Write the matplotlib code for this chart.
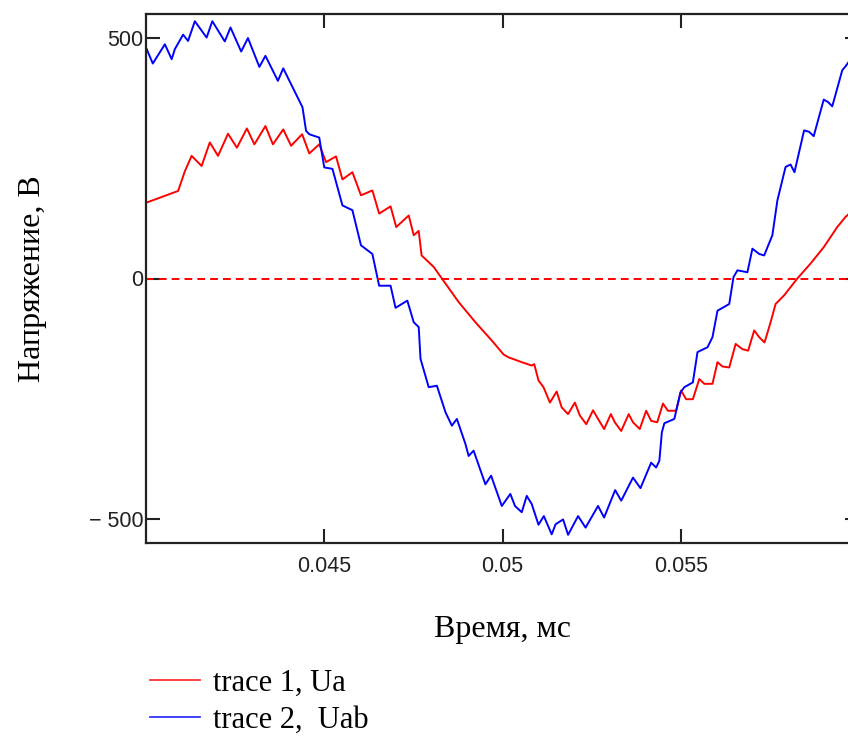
import numpy as np
import matplotlib
matplotlib.use("Agg")
import matplotlib.pyplot as plt
from matplotlib.lines import Line2D

plt.rcParams['font.family'] = ['Liberation Serif', 'DejaVu Serif']

# trace 1, Ua  (time s, voltage V)
t_ua = [0.04002, 0.04090, 0.04109, 0.04128, 0.04156, 0.04179, 0.04202, 0.04230,
        0.04255, 0.04283, 0.04304, 0.04335, 0.04356, 0.04385, 0.04407, 0.04438,
        0.04458, 0.04486, 0.04505, 0.04533, 0.04551, 0.04579, 0.04603, 0.04635,
        0.04654, 0.04686, 0.04702, 0.04737, 0.04751, 0.04765, 0.04773, 0.04807,
        0.04830, 0.04877, 0.04924, 0.04970, 0.05003, 0.05017, 0.05054, 0.05082,
        0.05089, 0.05101, 0.05115, 0.05133, 0.05152, 0.05166, 0.05184, 0.05203,
        0.05217, 0.05235, 0.05254, 0.05268, 0.05285, 0.05304, 0.05315, 0.05333,
        0.05354, 0.05366, 0.05385, 0.05403, 0.05417, 0.05434, 0.05450, 0.05464,
        0.05487, 0.05501, 0.05515, 0.05534, 0.05552, 0.05566, 0.05589, 0.05603,
        0.05617, 0.05636, 0.05654, 0.05673, 0.05689, 0.05706, 0.05720, 0.05735,
        0.05752, 0.05766, 0.05790, 0.05827, 0.05864, 0.05901, 0.05939, 0.05962,
        0.06000]
u_a = [158, 182, 223, 255, 234, 283, 255, 301,
       272, 312, 279, 317, 279, 310, 276, 300,
       260, 279, 242, 254, 206, 221, 173, 183,
       135, 150, 107, 131, 90, 99, 48, 24,
       0, -49, -91, -129, -158, -164, -174, -181,
       -178, -212, -226, -258, -235, -268, -282, -258,
       -285, -303, -274, -292, -313, -282, -299, -317,
       -282, -299, -313, -275, -296, -299, -260, -275,
       -275, -233, -251, -251, -209, -219, -219, -174,
       -183, -185, -136, -147, -150, -108, -122, -133,
       -91, -53, -35, 0, 31, 65, 107, 128,
       152]

# trace 2, Uab
t_uab = [0.04002, 0.04019, 0.04053, 0.04072, 0.04081, 0.04104, 0.04118, 0.04137,
         0.04170, 0.04186, 0.04221, 0.04237, 0.04267, 0.04286, 0.04318, 0.04335,
         0.04370, 0.04385, 0.04421, 0.04439, 0.04449, 0.04458, 0.04486, 0.04500,
         0.04523, 0.04551, 0.04579, 0.04603, 0.04635, 0.04654, 0.04686, 0.04700,
         0.04733, 0.04751, 0.04765, 0.04770, 0.04793, 0.04816, 0.04840, 0.04858,
         0.04872, 0.04896, 0.04905, 0.04919, 0.04952, 0.04968, 0.04998, 0.05022,
         0.05035, 0.05054, 0.05068, 0.05082, 0.05101, 0.05116, 0.05138, 0.05149,
         0.05170, 0.05184, 0.05212, 0.05233, 0.05268, 0.05285, 0.05316, 0.05333,
         0.05366, 0.05387, 0.05417, 0.05431, 0.05440, 0.05447, 0.05454, 0.05482,
         0.05499, 0.05510, 0.05534, 0.05547, 0.05575, 0.05589, 0.05603, 0.05636,
         0.05648, 0.05659, 0.05687, 0.05701, 0.05720, 0.05734, 0.05757, 0.05771,
         0.05794, 0.05808, 0.05819, 0.05846, 0.05860, 0.05873, 0.05901, 0.05913,
         0.05925, 0.05953, 0.05962, 0.06000]
u_ab = [477, 447, 487, 456, 477, 507, 494, 535,
        501, 535, 493, 522, 472, 500, 440, 463,
        411, 437, 383, 356, 307, 300, 293, 231,
        228, 152, 142, 69, 51, -15, -15, -61,
        -46, -91, -101, -167, -226, -223, -278, -306,
        -292, -344, -369, -358, -428, -410, -473, -448,
        -473, -486, -452, -469, -512, -494, -532, -511,
        -501, -533, -494, -518, -473, -497, -440, -462,
        -414, -436, -383, -393, -379, -320, -301, -292,
        -237, -226, -216, -153, -143, -122, -67, -53,
        3, 17, 13, 62, 51, 48, 90, 162,
        232, 237, 221, 308, 305, 296, 372, 367,
        358, 433, 441, 480]

yticks = [-500, 0, 500]
ytick_labels = ["\u2212 500", "0", "500"]
xticks = [0.045, 0.05, 0.055]
xtick_labels = ["0.045", "0.05", "0.055"]
legend_labels = ['trace 1, Ua', 'trace 2,  Uab']

fig = plt.figure(figsize=(8.48, 7.36), dpi=100)
ax = fig.add_axes([146/848, 1 - 543/736, (859 - 146)/848, (543 - 14)/736])

ax.plot(t_ua, u_a, color='#ff0000', lw=1.4)
ax.plot(t_uab, u_ab, color='#0000ff', lw=1.4)
ax.axhline(0, color='#ff0000', lw=1.4, dashes=(4, 2.6))
ax.text(0.05985, 0, "0", fontsize=15.5, va='center', ha='left', color='#333333',
        family='Liberation Sans')

ax.set_xlim(0.04, 0.06)
ax.set_ylim(-550, 550)
ax.set_xticks(xticks)
ax.set_xticklabels(xtick_labels)
ax.set_yticks(yticks)
ax.set_yticklabels(ytick_labels)
ax.tick_params(direction='in', length=10, width=1.5, labelsize=15.5, colors='#222222',
               top=True, right=True)
ax.tick_params(axis='x', pad=9)
ax.tick_params(axis='y', pad=2)
for lab in ax.get_xticklabels() + ax.get_yticklabels():
    lab.set_family('Liberation Sans')
for s in ax.spines.values():
    s.set_linewidth(1.6)
    s.set_color('#222222')

ax.set_xlabel('Время, мс', fontsize=23, labelpad=28)
ax.set_ylabel('Напряжение, В', fontsize=23, labelpad=30)

handles = [Line2D([], [], color='#ff3333', lw=1.3), Line2D([], [], color='#3333ff', lw=1.3)]
fig.legend(handles=handles, labels=legend_labels, loc='upper left',
           bbox_to_anchor=(150/848, 1 - 669/736),
           frameon=False, fontsize=22, handlelength=1.65, handletextpad=0.4,
           labelspacing=0.24, borderaxespad=0, borderpad=0)

fig.savefig('out.png', dpi=100)
